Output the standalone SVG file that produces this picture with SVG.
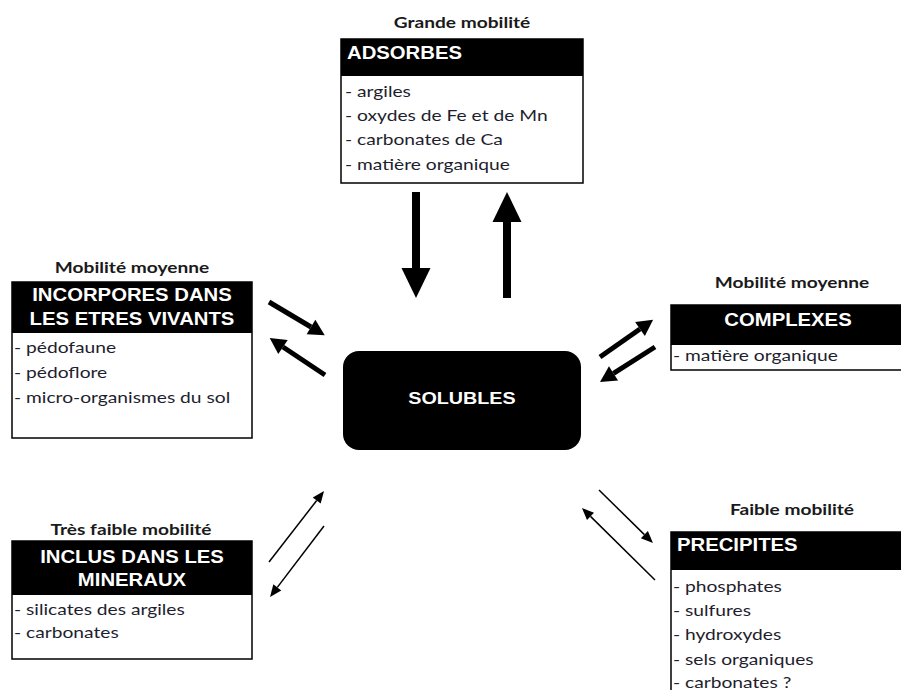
<svg xmlns="http://www.w3.org/2000/svg" width="901" height="690" viewBox="0 0 901 690">
  <style>
    .bg { fill: #ffffff; }
    .box { fill: #ffffff; stroke: #000000; stroke-width: 1.5; }
    .head { fill: #000000; }
    text { transform-box: fill-box; }
    .title { font-family: Lato, "Liberation Sans", sans-serif; font-weight: bold; font-size: 14.5px; fill: #1a1a1a; text-anchor: middle; transform-origin: center; transform: scaleX(1.32); }
    .htext { font-family: "Liberation Sans", Arial, sans-serif; font-weight: bold; font-size: 17.5px; fill: #ffffff; transform-origin: left; transform: scaleX(1.16); }
    .hc { text-anchor: middle; transform-origin: center; }
    .item { font-family: Lato, "Liberation Sans", sans-serif; font-size: 15px; fill: #1e1e2e; transform-origin: left; transform: scaleX(1.28); }
    .big { stroke: #000000; stroke-width: 8; fill: none; }
    .mid { stroke: #000000; stroke-width: 5; fill: none; }
    .thin { stroke: #000000; stroke-width: 1.5; fill: none; }
  </style>
  <defs>
    <marker id="headBig" markerUnits="userSpaceOnUse" orient="auto" refX="0" refY="0" overflow="visible">
      <path d="M0,-14.5 L30,0 L0,14.5 Z" fill="#000000"/>
    </marker>
    <marker id="headMid" markerUnits="userSpaceOnUse" orient="auto" refX="0" refY="0" overflow="visible">
      <path d="M0,-8.5 L16,0 L0,8.5 Z" fill="#000000"/>
    </marker>
    <marker id="headThin" markerUnits="userSpaceOnUse" orient="auto" refX="0" refY="0" overflow="visible">
      <path d="M0,-5 L12,0 L0,5 Z" fill="#000000"/>
    </marker>
  </defs>

  <rect class="bg" x="0" y="0" width="901" height="690"/>

  <!-- connectors -->
  <g id="connectors">
    <!-- ADSORBES <-> SOLUBLES -->
    <line class="big" x1="416" y1="192" x2="416" y2="268" marker-end="url(#headBig)"/>
    <line class="big" x1="507" y1="298" x2="507" y2="222" marker-end="url(#headBig)"/>
    <!-- INCORPORES <-> SOLUBLES -->
    <line class="mid" x1="269" y1="302" x2="311" y2="327" marker-end="url(#headMid)"/>
    <line class="mid" x1="325" y1="375" x2="283" y2="347" marker-end="url(#headMid)"/>
    <!-- COMPLEXES <-> SOLUBLES -->
    <line class="mid" x1="600" y1="357" x2="640" y2="329" marker-end="url(#headMid)"/>
    <line class="mid" x1="655" y1="347" x2="613.5" y2="373.4" marker-end="url(#headMid)"/>
    <!-- INCLUS <-> SOLUBLES -->
    <line class="thin" x1="269" y1="562" x2="316.7" y2="500.5" marker-end="url(#headThin)"/>
    <line class="thin" x1="324" y1="526" x2="277.3" y2="587.4" marker-end="url(#headThin)"/>
    <!-- PRECIPITES <-> SOLUBLES -->
    <line class="thin" x1="599" y1="490" x2="644.4" y2="534.6" marker-end="url(#headThin)"/>
    <line class="thin" x1="655" y1="580" x2="590.5" y2="516.4" marker-end="url(#headThin)"/>
  </g>

  <!-- central node -->
  <g id="solubles">
    <rect x="343" y="351" width="238" height="99" rx="16" ry="16" fill="#000000"/>
    <text class="htext hc" x="462" y="404" style="font-size:17px">SOLUBLES</text>
  </g>

  <g id="adsorbes">
    <text class="title" x="462" y="28">Grande mobilité</text>
    <rect class="box" x="341" y="39" width="242" height="144"/>
    <rect class="head" x="341" y="39" width="242" height="37"/>
    <text class="htext" x="347" y="59">ADSORBES</text>
    <text class="item" x="345" y="97">- argiles</text>
    <text class="item" x="345" y="121">- oxydes de Fe et de Mn</text>
    <text class="item" x="345" y="145">- carbonates de Ca</text>
    <text class="item" x="345" y="170">- matière organique</text>
  </g>

  <g id="incorpores">
    <text class="title" x="132" y="273">Mobilité moyenne</text>
    <rect class="box" x="12" y="282" width="240" height="156"/>
    <rect class="head" x="12" y="282" width="240" height="51"/>
    <text class="htext hc" x="132" y="301">INCORPORES DANS</text>
    <text class="htext hc" x="132" y="325">LES ETRES VIVANTS</text>
    <text class="item" x="14" y="353">- pédofaune</text>
    <text class="item" x="14" y="378">- pédoflore</text>
    <text class="item" x="14" y="403">- micro-organismes du sol</text>
  </g>

  <g id="complexes">
    <text class="title" x="792" y="288">Mobilité moyenne</text>
    <rect class="box" x="671" y="305" width="240" height="65"/>
    <rect class="head" x="671" y="305" width="240" height="40"/>
    <text class="htext hc" x="788" y="326">COMPLEXES</text>
    <text class="item" x="673" y="361">- matière organique</text>
  </g>

  <g id="inclus">
    <text class="title" x="131" y="535">Très faible mobilité</text>
    <rect class="box" x="12" y="541" width="240" height="118"/>
    <rect class="head" x="12" y="541" width="240" height="54"/>
    <text class="htext hc" x="132" y="563">INCLUS DANS LES</text>
    <text class="htext hc" x="132" y="586">MINERAUX</text>
    <text class="item" x="14" y="615">- silicates des argiles</text>
    <text class="item" x="14" y="638">- carbonates</text>
  </g>

  <g id="precipites">
    <text class="title" x="792" y="515">Faible mobilité</text>
    <rect class="box" x="671" y="532" width="240" height="170"/>
    <rect class="head" x="671" y="532" width="240" height="38"/>
    <text class="htext" x="677" y="551">PRECIPITES</text>
    <text class="item" x="673" y="592">- phosphates</text>
    <text class="item" x="673" y="616">- sulfures</text>
    <text class="item" x="673" y="640">- hydroxydes</text>
    <text class="item" x="673" y="665">- sels organiques</text>
    <text class="item" x="673" y="688">- carbonates ?</text>
  </g>
</svg>
